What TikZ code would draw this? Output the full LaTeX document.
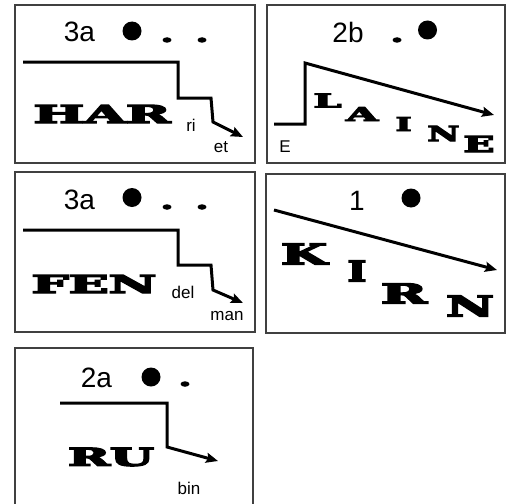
\documentclass[tikz,border=0pt]{standalone}
\usepackage{fontspec}
\usepackage{graphicx}
\setmainfont{Liberation Sans}
\newfontfamily\heavyfont{DejaVu Serif}[BoldFeatures={FakeBold=5}]
\usetikzlibrary{arrows.meta,shapes.geometric}
% a heavy serif word stretched to a given width and cap height (in pt)
\newcommand\wideword[3]{\resizebox{#1pt}{#2pt}{\heavyfont\bfseries #3}}
\begin{document}
\begin{tikzpicture}[x=1pt,y=-1pt,
  panel/.style={draw=black!75,line width=1.5pt},
  flow/.style={line width=3pt,-{Stealth[length=12pt,width=10pt,inset=2pt]}},
  tone/.style={font=\fontsize{28}{30}\selectfont,inner sep=0},
  small/.style={font=\fontsize{17}{19}\selectfont,inner sep=0},
  bigdot/.style={circle,fill,inner sep=0,minimum size=19pt},
  tinydot/.style={ellipse,fill,inner sep=0,minimum width=9pt,minimum height=5.5pt},
  glyph/.style={inner sep=0}]
\useasboundingbox[fill=white] (0,0) rectangle (510,503);

% ---- HARriet
\draw[panel] (15,5) rectangle (255,163);
\node[tone] (har-num) at (79.5,32) {3a};
\node[bigdot] (har-d1) at (132,31) {};
\node[tinydot] (har-d2) at (167,40) {};
\node[tinydot] (har-d3) at (202,40) {};
\coordinate (har-a) at (23,62);
\coordinate (har-b) at (243,137);
\draw[flow] (har-a) -- (178,62) -- (178,98) -- (211,98) -- (213,122) -- (har-b);
\node[glyph] (har-w) at (102,114) {\wideword{137}{18}{HAR}};
\node[small] (har-s1) at (191,125) {ri};
\node[small] (har-s2) at (221,147) {et};

% ---- ELAINE
\draw[panel] (267,5) rectangle (505,163);
\node[tone] (lai-num) at (348,32.5) {2b};
\node[tinydot] (lai-d1) at (397,40) {};
\node[bigdot] (lai-d2) at (427.5,30) {};
\coordinate (lai-a) at (274,124);
\coordinate (lai-b) at (494,115);
\draw[flow] (lai-a) -- (305,124) -- (305,63) -- (lai-b);
\node[glyph] (lai-l) at (327.5,100.5) {\wideword{28}{14}{L}};
\node[glyph] (lai-a1) at (362,114) {\wideword{32}{14}{A}};
\node[glyph] (lai-i) at (403.5,124) {\wideword{16}{14}{I}};
\node[glyph] (lai-n) at (443.5,133.5) {\wideword{32}{15}{N}};
\node[glyph] (lai-e) at (479,144) {\wideword{31}{16}{E}};
\node[small] (lai-s) at (285,147) {E};

% ---- FENdelman
\draw[panel] (15,172) rectangle (255,332);
\node[tone] (fen-num) at (79.5,200) {3a};
\node[bigdot] (fen-d1) at (132,197.5) {};
\node[tinydot] (fen-d2) at (167,207) {};
\node[tinydot] (fen-d3) at (202,207) {};
\coordinate (fen-a) at (23,230);
\coordinate (fen-b) at (243,303);
\draw[flow] (fen-a) -- (178,230) -- (178,265) -- (211,265) -- (213,290) -- (fen-b);
\node[glyph] (fen-w) at (94,284) {\wideword{125}{18}{FEN}};
\node[small] (fen-s1) at (183,292) {del};
\node[small] (fen-s2) at (227,316) {man};

% ---- KIRN
\draw[panel] (266,174) rectangle (505,333);
\node[tone] (kir-num) at (357,201) {1};
\node[bigdot] (kir-d1) at (411,198) {};
\coordinate (kir-a) at (274,210);
\coordinate (kir-b) at (497,270);
\draw[flow] (kir-a) -- (kir-b);
\node[glyph] (kir-k) at (304,254) {\wideword{46}{21}{K}};
\node[glyph] (kir-i) at (357,271) {\wideword{19}{21}{I}};
\node[glyph] (kir-r) at (404,293.5) {\wideword{46}{20}{R}};
\node[glyph] (kir-n) at (470,306) {\wideword{48}{21}{N}};

% ---- RUbin
\draw[panel] (15,510) -- (15,348) -- (253,348) -- (253,510);
\node[tone] (ru-num) at (96.5,378) {2a};
\node[bigdot] (ru-d1) at (151,377) {};
\node[tinydot] (ru-d2) at (185,384) {};
\coordinate (ru-a) at (60,403);
\coordinate (ru-b) at (218,461);
\draw[flow] (ru-a) -- (167,403) -- (167,447) -- (ru-b);
\node[glyph] (ru-w) at (111,457) {\wideword{86}{18}{RU}};
\node[small] (ru-s) at (189,488) {bin};
\end{tikzpicture}
\end{document}
